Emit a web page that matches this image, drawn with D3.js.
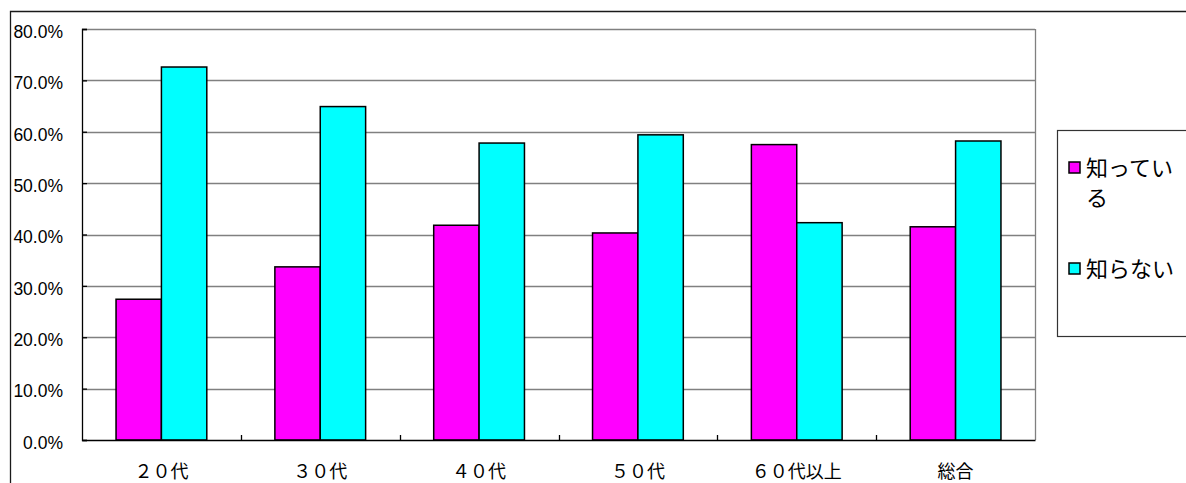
<!DOCTYPE html>
<html>
<head>
<meta charset="utf-8">
<script src="https://cdn.jsdelivr.net/npm/d3@7"></script>
<style>
  html, body { margin: 0; padding: 0; background: #fff; }
  svg { display: block; }
</style>
</head>
<body>
<svg id="chart" width="1186" height="483"></svg>
<script>
// ---- data ----
const categories = ["２０代", "３０代", "４０代", "５０代", "６０代以上", "総合"];
const seriesNames = ["知っている", "知らない"];
const knowValues = [27.4, 33.7, 41.8, 40.3, 57.5, 41.5];
const dontKnowValues = [72.6, 64.9, 57.8, 59.4, 42.3, 58.2];
const yTicks = [0, 10, 20, 30, 40, 50, 60, 70, 80];
const seriesColors = ["#FF00FF", "#00FFFF"];

const seriesValues = [knowValues, dontKnowValues];

const svg = d3.select("#chart");
const plot = { left: 82, right: 1035, top: 29, bottom: 440 };

// outer chart frame
svg.append("path")
  .attr("d", "M10.5,483 V11.5 H1186")
  .attr("fill", "none").attr("stroke", "#1a1a1a").attr("stroke-width", 1.3);

const y = d3.scaleLinear().domain([0, 80]).range([plot.bottom, plot.top]);
const x = d3.scaleBand().domain(categories)
  .range([plot.left, plot.right])
  .paddingInner(1.5 / 3.5).paddingOuter(0.75 / 3.5);
const xs = d3.scaleBand().domain(seriesNames).range([0, x.bandwidth()]);

// gridlines
svg.append("g").selectAll("line").data(yTicks.filter(d => d > 0)).join("line")
  .attr("x1", plot.left).attr("x2", plot.right)
  .attr("y1", d => Math.round(y(d)) + 0.5).attr("y2", d => Math.round(y(d)) + 0.5)
  .attr("stroke", "#808080").attr("stroke-width", 1.3);
// right border of plot area
svg.append("line")
  .attr("x1", plot.right + 0.5).attr("x2", plot.right + 0.5)
  .attr("y1", plot.top).attr("y2", plot.bottom)
  .attr("stroke", "#808080").attr("stroke-width", 1.3);

// bars
const groups = svg.append("g").selectAll("g").data(categories).join("g")
  .attr("transform", d => `translate(${x(d)},0)`);
groups.selectAll("rect")
  .data((c, i) => seriesNames.map((s, j) => ({ s, j, v: seriesValues[j][i] })))
  .join("rect")
  .attr("x", d => xs(d.s))
  .attr("width", xs.bandwidth())
  .attr("y", d => y(d.v))
  .attr("height", d => plot.bottom - y(d.v))
  .attr("fill", d => seriesColors[d.j])
  .attr("stroke", "#000").attr("stroke-width", 1.5);

// y axis
const yAxis = d3.axisLeft(y).tickValues(yTicks).tickSize(-5).tickPadding(0)
  .tickFormat(d => d3.format(".1f")(d) + "%");
const yg = svg.append("g").attr("transform", `translate(${plot.left},0)`).call(yAxis);
yg.select(".domain").attr("stroke", "#000").attr("stroke-width", 1.3);
yg.selectAll(".tick line").attr("stroke", "#000").attr("stroke-width", 1.3);
yg.selectAll(".tick text")
  .attr("x", 63 - plot.left).attr("dy", "0.62em").attr("y", -2.5)
  .attr("text-anchor", "end")
  .style("font-family", "'Liberation Sans', Arial, sans-serif")
  .style("font-size", "17.5px").attr("fill", "#000");

// x axis
const xAxis = d3.axisBottom(x).tickSize(0).tickPadding(0);
const xg = svg.append("g").attr("transform", `translate(0,${plot.bottom})`).call(xAxis);
xg.select(".domain").attr("stroke", "#000").attr("stroke-width", 1.5);
xg.selectAll(".tick text")
  .attr("y", 38).attr("dy", 0)
  .style("font-family", "'Noto Sans CJK JP', sans-serif")
  .style("font-size", "18px").attr("fill", "#000");
// category boundary ticks (inward)
const step = x.step();
const bounds = d3.range(1, categories.length).map(i => plot.left + i * step);
svg.append("g").selectAll("line").data(bounds).join("line")
  .attr("x1", d => Math.round(d) + 0.5).attr("x2", d => Math.round(d) + 0.5)
  .attr("y1", plot.bottom).attr("y2", plot.bottom - 5)
  .attr("stroke", "#000").attr("stroke-width", 1.3);

// legend
svg.append("rect")
  .attr("x", 1057.5).attr("y", 130.5).attr("width", 200).attr("height", 206)
  .attr("fill", "#fff").attr("stroke", "#333").attr("stroke-width", 1.2);
const legendItems = [
  { lines: ["知ってい", "る"], cy: 168 },
  { lines: ["知らない"], cy: 269 }
];
legendItems.forEach((it, j) => {
  svg.append("rect")
    .attr("x", 1069).attr("y", it.cy - 6).attr("width", 11).attr("height", 11)
    .attr("fill", seriesColors[j]).attr("stroke", "#000").attr("stroke-width", 1.5);
  const t = svg.append("text")
    .attr("x", 1086).attr("y", it.cy + 8)
    .style("font-family", "'Noto Sans CJK JP', sans-serif")
    .style("font-size", "22px").attr("fill", "#000");
  it.lines.forEach((ln, k) => {
    t.append("tspan").attr("x", 1086).attr("dy", k === 0 ? 0 : 30).text(ln);
  });
});
</script>
</body>
</html>
